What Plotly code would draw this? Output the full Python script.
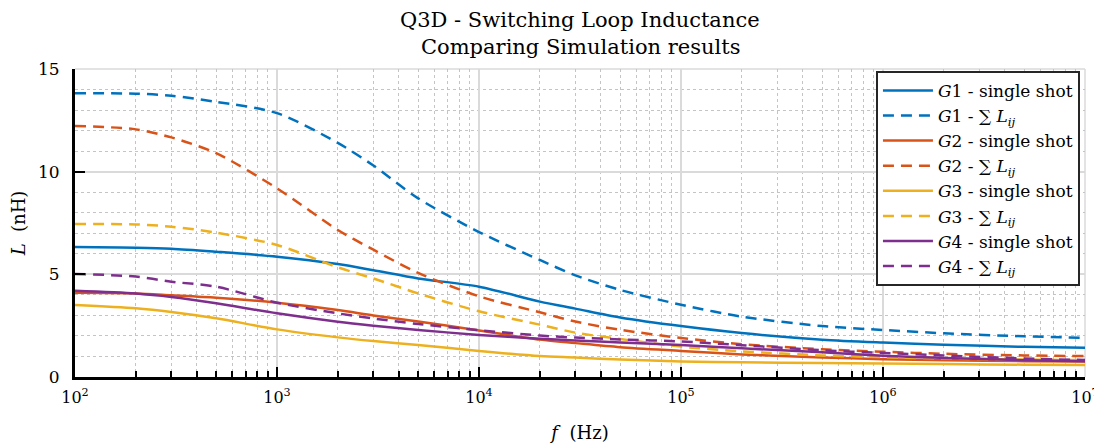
import plotly.graph_objects as go

freq = [1e2, 2e2, 3e2, 5e2, 1e3, 2e3, 3e3, 5e3, 1e4, 2e4, 3e4, 5e4,
        1e5, 2e5, 5e5, 1e6, 2e6, 5e6, 1e7]

g1_single = [6.33, 6.30, 6.25, 6.10, 5.86, 5.50, 5.20, 4.80, 4.40, 3.67, 3.33, 2.90,
             2.48, 2.14, 1.82, 1.68, 1.57, 1.47, 1.42]
g1_sum = [13.82, 13.80, 13.70, 13.40, 12.85, 11.40, 10.30, 8.70, 7.06, 5.70, 4.95, 4.24,
          3.52, 2.94, 2.48, 2.29, 2.13, 1.98, 1.91]
g2_single = [4.10, 4.07, 3.98, 3.86, 3.62, 3.26, 3.00, 2.70, 2.27, 1.82, 1.65, 1.45,
             1.27, 1.10, 0.95, 0.87, 0.82, 0.77, 0.75]
g2_sum = [12.23, 12.06, 11.67, 10.90, 9.19, 7.16, 6.20, 5.07, 3.93, 3.15, 2.70, 2.30,
          1.90, 1.60, 1.35, 1.23, 1.13, 1.05, 1.02]
g3_single = [3.51, 3.35, 3.17, 2.86, 2.32, 1.93, 1.75, 1.56, 1.27, 1.02, 0.95, 0.85,
             0.76, 0.72, 0.68, 0.66, 0.63, 0.60, 0.58]
g3_sum = [7.45, 7.43, 7.32, 7.03, 6.43, 5.34, 4.80, 4.07, 3.20, 2.55, 2.16, 1.85,
          1.48, 1.25, 1.05, 0.97, 0.90, 0.85, 0.82]
g4_single = [4.20, 4.07, 3.90, 3.59, 3.10, 2.69, 2.50, 2.29, 2.05, 1.86, 1.78, 1.68,
             1.56, 1.40, 1.20, 1.03, 0.93, 0.82, 0.77]
g4_sum = [5.02, 4.89, 4.64, 4.40, 3.62, 3.10, 2.85, 2.58, 2.28, 2.02, 1.92, 1.83,
          1.73, 1.55, 1.30, 1.17, 1.05, 0.90, 0.83]

series = [
    ("<i>G</i>1 - single shot", g1_single, "#0072BD", "solid"),
    ("<i>G</i>1 - ∑ <i>L</i><sub><i>ij</i></sub>", g1_sum, "#0072BD", "11px,7px"),
    ("<i>G</i>2 - single shot", g2_single, "#D95319", "solid"),
    ("<i>G</i>2 - ∑ <i>L</i><sub><i>ij</i></sub>", g2_sum, "#D95319", "11px,7px"),
    ("<i>G</i>3 - single shot", g3_single, "#EDB120", "solid"),
    ("<i>G</i>3 - ∑ <i>L</i><sub><i>ij</i></sub>", g3_sum, "#EDB120", "11px,7px"),
    ("<i>G</i>4 - single shot", g4_single, "#7E2F8E", "solid"),
    ("<i>G</i>4 - ∑ <i>L</i><sub><i>ij</i></sub>", g4_sum, "#7E2F8E", "11px,7px"),
]

title_lines = ["Q3D - Switching Loop Inductance", "Comparing Simulation results"]

x_tickvals = [1e2, 1e3, 1e4, 1e5, 1e6, 1e7]
x_ticktext = ["10<sup>2</sup>", "10<sup>3</sup>", "10<sup>4</sup>",
              "10<sup>5</sup>", "10<sup>6</sup>", "10<sup>7</sup>"]
y_tickvals = [0, 5, 10, 15]

FONT = "DejaVu Serif"

fig = go.Figure()
for name, vals, color, dash in series:
    fig.add_trace(go.Scatter(
        x=freq, y=vals, name=name, mode="lines",
        line=dict(color=color, width=2.5, dash=dash, shape="spline", smoothing=0.8),
    ))

# the page body adds an 8px offset; margins compensate so the plot area
# lands at x 75..1085, y 69..377 of the window
fig.update_layout(
    width=1102, height=447,
    margin=dict(l=67, r=25, t=61, b=78),
    paper_bgcolor="white", plot_bgcolor="white",
    font=dict(family=FONT, size=17, color="#262626"),
    showlegend=True,
    legend=dict(x=0.995, y=0.994, xanchor="right", yanchor="top",
                bgcolor="white", bordercolor="#262626", borderwidth=2,
                font=dict(family=FONT, size=17, color="#000000"),
                itemwidth=50, tracegroupgap=0),
    xaxis=dict(
        type="log", range=[2, 7], automargin=False,
        tickvals=x_tickvals, ticktext=x_ticktext,
        ticks="inside", ticklen=10, tickwidth=2, tickcolor="#000000",
        showline=True, linecolor="#000000", linewidth=3, mirror=False,
        showgrid=True, gridcolor="#dadada", gridwidth=1.5,
        zeroline=False, ticklabelstandoff=4,
        tickfont=dict(family=FONT, size=16, color="#000000"),
        title=dict(text="<i>f</i>  (Hz)", standoff=21,
                   font=dict(family=FONT, size=18, color="#000000")),
        minor=dict(dtick="D1", ticks="inside", ticklen=6, tickwidth=2,
                   tickcolor="#000000", showgrid=True, gridcolor="#c4c4c4",
                   griddash="dot", gridwidth=1),
    ),
    yaxis=dict(
        range=[0, 15], tickvals=y_tickvals, automargin=False,
        ticks="inside", ticklen=10, tickwidth=2, tickcolor="#000000",
        showline=True, linecolor="#000000", linewidth=3, mirror=False,
        showgrid=True, gridcolor="#dadada", gridwidth=1.5,
        zeroline=False, ticklabelstandoff=9,
        tickfont=dict(family=FONT, size=17, color="#000000"),
        title=dict(text="<i>L</i>  (nH)", standoff=10,
                   font=dict(family=FONT, size=18, color="#000000")),
        minor=dict(dtick=1, ticks="", showgrid=True, gridcolor="#c4c4c4",
                   griddash="dot", gridwidth=1),
    ),
)

# two-line title as annotations
for line, ypix in zip(title_lines, [20, 47]):
    fig.add_annotation(text=line, xref="paper", yref="paper", x=0.5,
                       y=(377 - ypix) / 308, xanchor="center", yanchor="middle",
                       showarrow=False,
                       font=dict(family=FONT, size=21, color="#000000"))

# light frame lines at top and right edges (like the major grid)
fig.add_shape(type="line", xref="paper", yref="paper", x0=0, x1=1, y0=1, y1=1,
              line=dict(color="#dadada", width=1.5), layer="below")
fig.add_shape(type="line", xref="paper", yref="paper", x0=1, x1=1, y0=0, y1=1,
              line=dict(color="#dadada", width=1.5), layer="below")

fig.write_html("out.html")
